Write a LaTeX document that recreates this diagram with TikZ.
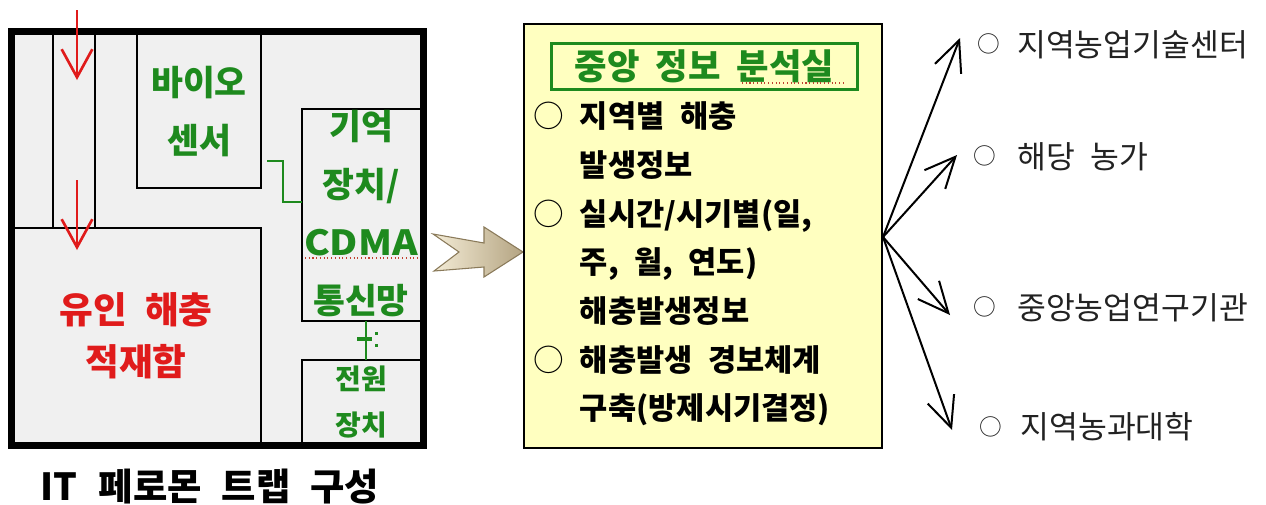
\documentclass[tikz,border=0pt]{standalone}
\usepackage{fontspec}
\newfontfamily\kr[WordSpace=2.2]{Noto Sans CJK KR}
\usetikzlibrary{arrows.meta}
\definecolor{gbg}{HTML}{F0F0F0}
\definecolor{grn}{HTML}{1E8A1E}
\definecolor{rd}{HTML}{E01B1B}
\definecolor{ylw}{HTML}{FFFFC0}
\definecolor{tanL}{HTML}{F4ECD6}
\definecolor{tanD}{HTML}{B4A482}
\definecolor{tanE}{HTML}{8A7A5A}
\definecolor{lbl}{HTML}{222222}
\definecolor{squig}{HTML}{C04030}
\newcommand\smallcirc{\raisebox{0.12em}{\fontsize{17}{17}\selectfont ○}}
\begin{document}
\begin{tikzpicture}[x=0.75pt,y=-0.75pt,
  wall/.style={draw=black,line width=0.9pt},
  gline/.style={draw=grn,line width=1.6pt},
  gtxt/.style={font=\kr\bfseries\fontsize{26}{43.5}\selectfont,text=grn,align=center,inner sep=0pt},
  rtxt/.style={font=\kr\bfseries\fontsize{27.5}{39}\selectfont,text=rd,align=center,inner sep=0pt},
  ptxt/.style={font=\kr\bfseries\fontsize{21}{34}\selectfont,text=grn,align=center,inner sep=0pt},
  redarrow/.style={draw=rd,line width=2.2pt,-{Straight Barb[length=21pt,width=23pt,line width=2pt]}},
  outarrow/.style={draw=black,line width=1.5pt,-{Straight Barb[length=23pt,width=21pt,line width=1.5pt]}},
  infotxt/.style={font=\kr\bfseries\fontsize{23}{36.5}\selectfont,text=black,align=left,inner sep=0pt},
  lbltxt/.style={font=\kr\fontsize{23.5}{26}\selectfont,text=lbl,inner sep=0pt,anchor=west},
]
\useasboundingbox (0,0) rectangle (1266,504);
\fill[white] (0,0) rectangle (1266,504);

% ---------- left: trap plan ----------
\fill[gbg] (11.5,31.5) rectangle (423.5,445.5);
\draw[wall] (53,35) -- (53,228);
\draw[wall] (95,35) -- (95,228);
\draw[wall] (15,228) -- (261,228) -- (261,442);
\draw[wall] (137,35) -- (137,188) -- (261,188) -- (261,35);
\draw[wall] (420,109) -- (302,109) -- (302,321) -- (420,321);
\draw[wall] (420,360) -- (302,360) -- (302,442);
\draw[draw=black,line width=5.25pt] (11.5,31.5) rectangle (423.5,445.5);

\coordinate (a1s) at (77,10);
\coordinate (a1e) at (77,80);
\coordinate (a2s) at (77,180);
\coordinate (a2e) at (77,250);
\draw[redarrow] (a1s) -- (a1e);
\draw[redarrow] (a2s) -- (a2e);

\node[gtxt] (bio) at (199,111.5) {바이오\\센서};
\node[gtxt] (mem) at (361,213.5) {기억\\장치/\\\scalebox{1.12}[1]{CDMA}\\통신망};
\node[rtxt] (trap) at (136,336) {유인 해충\\적재함};
\node[ptxt] (pwr) at (361,402) {전원\\장치};

\draw[draw=squig,line width=0.8pt,dotted] (305,258) -- (420,258);

\coordinate (c1) at (267,161);
\coordinate (c2) at (302,202);
\draw[gline] (c1) -- (283,161) -- (283,202) -- (c2);
\coordinate (m1) at (366,321);
\coordinate (m2) at (366,360);
\draw[gline] (m1) -- (m2);
\draw[draw=grn,line width=3pt] (357,339) -- (372,339);
\fill[grn] (374.5,331.5) rectangle (377.5,334.5);
\fill[grn] (374.5,343.5) rectangle (377.5,346.5);

\node[font=\kr\bfseries\fontsize{28}{30}\selectfont,inner sep=0pt] (cap) at (210,487) {IT\hspace{16pt}페로몬\hspace{15pt}트랩\hspace{15pt}구성};

% ---------- block arrow ----------
\shadedraw[left color=tanL,right color=tanD,draw=tanE,line width=0.8pt]
  (433,234) -- (484,243) -- (484,227) -- (523,252) -- (484,277) -- (484,267) -- (434,271) -- (459,252) -- cycle;

% ---------- info box ----------
\draw[draw=black,fill=ylw,line width=2.2pt] (524,24) rectangle (882,448);
\node[draw=grn,line width=2.4pt,minimum width=229pt,minimum height=35pt,inner sep=0pt,
  font=\kr\bfseries\fontsize{26.5}{28}\selectfont,text=grn] (title) at (704.5,66.5) {중앙\hspace{12pt}정보\hspace{12pt}분석실};
\draw[draw=squig,line width=0.8pt,dotted] (742,83) -- (845,83);

\node[infotxt,anchor=west] (info) at (533,264) {%
\makebox[35pt][l]{\mdseries ○}지역별 해충\\
\hspace*{35pt}발생정보\\
\makebox[35pt][l]{\mdseries ○}실시간/시기별(일,\\
\hspace*{35pt}주, 월, 연도)\\
\hspace*{35pt}해충발생정보\\
\makebox[35pt][l]{\mdseries ○}해충발생 경보체계\\
\hspace*{35pt}구축(방제시기결정)};

% ---------- outputs ----------
\coordinate (hub) at (883,237);
\coordinate (t1) at (960,38);
\coordinate (t2) at (957,155);
\coordinate (t3) at (950,315);
\coordinate (t4) at (952,430);
\draw[outarrow] (hub) -- (t1);
\draw[outarrow] (hub) -- (t2);
\draw[outarrow] (hub) -- (t3);
\draw[outarrow] (hub) -- (t4);

\node[lbltxt] (l1) at (977,45) {\makebox[30pt][l]{\smallcirc}지역농업기술센터};
\node[lbltxt] (l2) at (973,157) {\makebox[33pt][l]{\smallcirc}해당 농가};
\node[lbltxt] (l3) at (973,308) {\makebox[33pt][l]{\smallcirc}중앙농업연구기관};
\node[lbltxt] (l4) at (979,427) {\makebox[31pt][l]{\smallcirc}지역농과대학};
\end{tikzpicture}
\end{document}
